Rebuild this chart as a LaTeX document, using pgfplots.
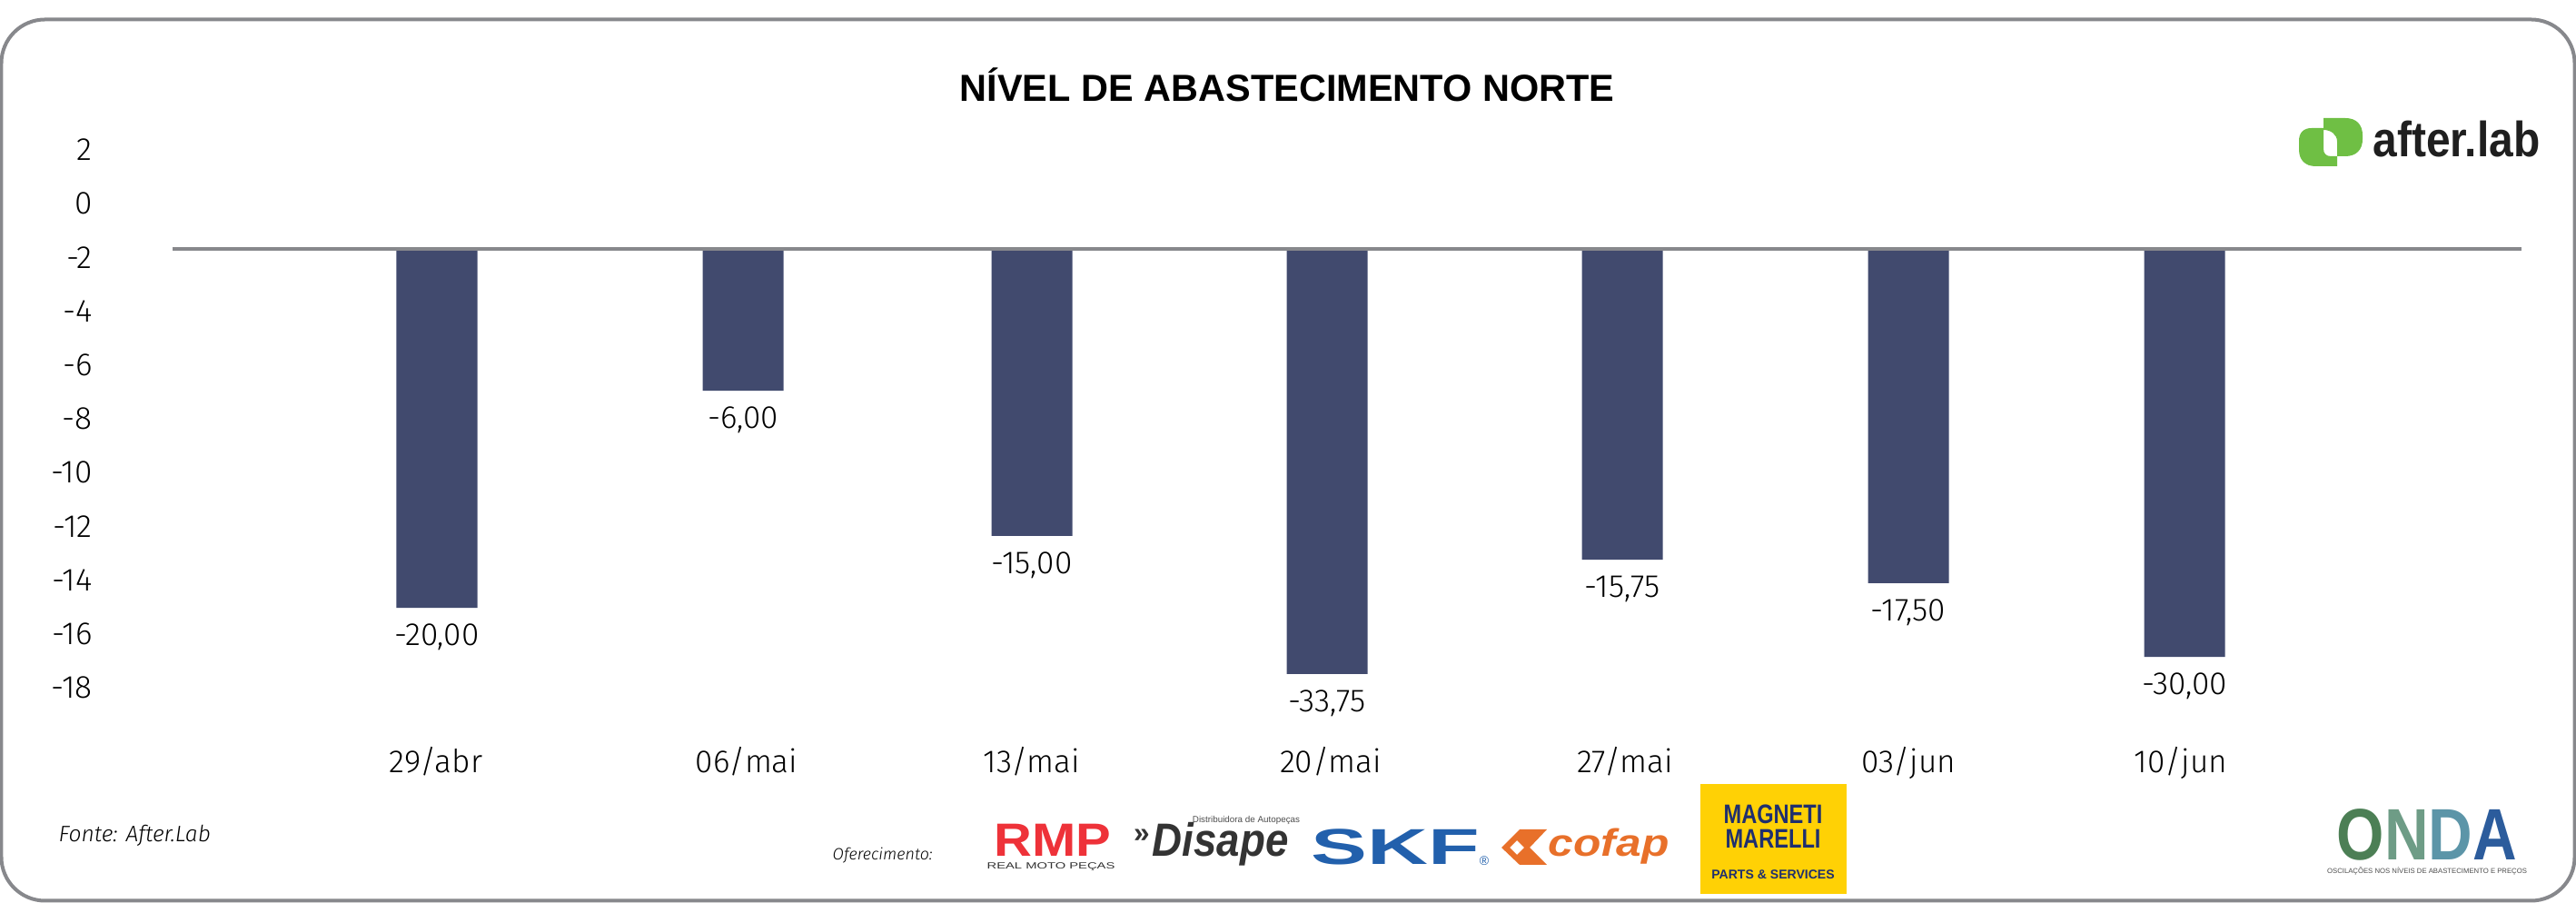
\documentclass[border=0pt]{standalone}
\usepackage{fontspec}
\setmainfont{Fira Sans}[UprightFont=* Light,ItalicFont=* Light Italic]
\newfontfamily\hel{Liberation Sans}
\usepackage{pgfplots}
\usepackage{pgfplotstable}
\pgfplotsset{compat=1.18}
\definecolor{barcol}{HTML}{414A6E}
\definecolor{framecol}{HTML}{87888C}
\definecolor{leaf}{HTML}{6FBF44}
\definecolor{rmpred}{HTML}{EE3239}
\definecolor{skfblue}{HTML}{2260AC}
\definecolor{cofapor}{HTML}{E8702A}
\definecolor{magyel}{HTML}{FFD105}
\definecolor{magblue}{HTML}{1F2F6E}
\newcommand{\sx}[2]{\scalebox{#1}[1]{#2}}
\newcommand{\fs}[1]{\fontsize{#1}{#1}\selectfont}

% x = position on the sheet, base = bar start, len = bar length read on the axis
% the third stack level has next to no height, it only carries the value labels
\pgfplotstableread{
x    base  len    tip    label
481  -1.75 -13.28 -0.001 -20,00
818  -1.75 -5.20  -0.001 -6,00
1136 -1.75 -10.60 -0.001 -15,00
1461 -1.75 -15.74 -0.001 -33,75
1786 -1.75 -11.49 -0.001 -15,75
2101 -1.75 -12.36 -0.001 -17,50
2405 -1.75 -15.10 -0.001 -30,00
}\datatable

\begin{document}
\begin{tikzpicture}
\path[use as bounding box] (0,0) rectangle (28.36cm,9.94cm);
\begin{axis}[
  at={(1.9cm,1.777cm)},
  anchor=south west,
  scale only axis,
  width=25.86cm,
  height=6.808cm,
  ybar stacked,
  bar width=8.9mm,
  clip=false,
  enlargelimits=false,
  xmin=190, xmax=2776,
  ymin=-20, ymax=3,
  axis line style={draw=none},
  tick style={draw=none},
  xtick={480,822,1136,1465,1789,2101,2401},
  xticklabels={29/abr,06/mai,13/mai,20/mai,27/mai,03/jun,10/jun},
  ytick={2,0,-2,-4,-6,-8,-10,-12,-14,-16,-18},
  yticklabels={2,0,-2,-4,-6,-8,-10,-12,-14,-16,-18},
  tick label style={font=\fs{10pt}},
  yticklabel style={xshift=-7.6mm},
  xticklabel style={yshift=0.66mm},
  title={\hel\bfseries\fs{11.8pt}NÍVEL DE ABASTECIMENTO NORTE},
  title style={at={(axis description cs:0.4745,1.031)},anchor=center},
]
\addplot[draw=none,fill=none] table[x=x,y=base] {\datatable};
\addplot[draw=none,fill=barcol] table[x=x,y=len] {\datatable};
\addplot[draw=none,fill=none,
  point meta=explicit symbolic,
  nodes near coords,
  every node near coord/.append style={anchor=north,font=\fs{10pt},text=black,yshift=-0.55mm}
] table[x=x,y=tip,meta=label] {\datatable};
\draw[framecol,line width=0.4mm] (axis cs:190,-1.68) -- (axis cs:2776,-1.68);
\end{axis}

% frame, footer and logos, in sheet pixels
\begin{scope}[shift={(0,9.94cm)},x=0.1mm,y=-0.1mm]
\draw[framecol,line width=0.4mm,rounded corners=4.8mm] (1.5,21.5) rectangle (2834.5,991.5);

\node[anchor=west,inner sep=0pt,font=\itshape\fs{7pt}] at (64,920) {Fonte: After.Lab};
\node[anchor=west,inner sep=0pt,font=\itshape\fs{5.1pt}] at (916,942) {Oferecimento:};

% after.lab
\fill[leaf] (2558,141) -- (2545,141) .. controls (2536,141) and (2531,146) .. (2531,155) -- (2531,165)
  .. controls (2531,176) and (2538,183) .. (2549,183) -- (2573,183) -- (2573,172) -- (2566,172)
  .. controls (2561,172) and (2558,169) .. (2558,164) -- cycle;
\fill[leaf] (2558,130) -- (2582,130) .. controls (2594,130) and (2601,137) .. (2601,149) -- (2601,153)
  .. controls (2601,165) and (2594,172) .. (2582,172) -- (2573,172) -- (2573,156)
  .. controls (2573,148) and (2566,143) .. (2558,143) -- cycle;
\node[anchor=base west,inner sep=0pt,text=black!88] at (2612,173) {\hel\bfseries\fs{15.5pt}\sx{.88}{after.lab}};

% RMP
\node[inner sep=0pt,anchor=base,text=rmpred] at (1159,943) {\hel\bfseries\fs{14.6pt}\sx{1.13}{RMP}};
\node[inner sep=0pt,text=black!80] at (1157,954) {\hel\fs{2.8pt}\sx{1.5}{REAL MOTO PEÇAS}};

% Disape
\node[inner sep=0pt,anchor=base west,text=black!80] at (1268,943) {\hel\bfseries\itshape\fs{14.6pt}\sx{.89}{Disape}};
\node[inner sep=0pt,text=black!80] at (1257,920) {\hel\bfseries\fs{9pt}»};
\node[inner sep=0pt,text=black!70] at (1372,903) {\hel\fs{2.8pt}Distribuidora de Autopeças};

% SKF
\node[inner sep=0pt,anchor=base west,text=skfblue] at (1443,952) {\hel\bfseries\fs{15.8pt}\sx{1.67}{SKF}};
\node[inner sep=0pt,text=skfblue] at (1634,948) {\hel\fs{4pt}®};

% cofap
\fill[cofapor,even odd rule] (1653,933) -- (1673,913) -- (1703,913) -- (1684,933) -- (1703,952) -- (1673,952) -- cycle
  (1662,933) -- (1670,925) -- (1678,933) -- (1670,941) -- cycle;
\node[inner sep=0pt,anchor=base west,text=cofapor] at (1704,943) {\hel\bfseries\itshape\fs{12pt}\sx{1.18}{cofap}};

% Magneti Marelli
\fill[magyel] (1872,863) rectangle (2033,984);
\node[inner sep=0pt,text=magblue] at (1952,896) {\hel\bfseries\fs{8.4pt}\sx{.8}{MAGNETI}};
\node[inner sep=0pt,text=magblue] at (1952,923) {\hel\bfseries\fs{8.4pt}\sx{.8}{MARELLI}};
\node[inner sep=0pt,text=magblue] at (1952,963) {\hel\bfseries\fs{4pt}PARTS \& SERVICES};

% ONDA
\node[inner sep=0pt,anchor=base] at (2672,947) {\hel\bfseries\fs{22.8pt}\sx{.84}{\textcolor[HTML]{4C7F55}{O}\textcolor[HTML]{6E9C86}{N}\textcolor[HTML]{5C95A8}{D}\textcolor[HTML]{2C5C9C}{A}}};
\node[inner sep=0pt,text=black!70] at (2672,959) {\hel\fs{2.2pt}OSCILAÇÕES NOS NÍVEIS DE ABASTECIMENTO E PREÇOS};
\end{scope}
\end{tikzpicture}
\end{document}
